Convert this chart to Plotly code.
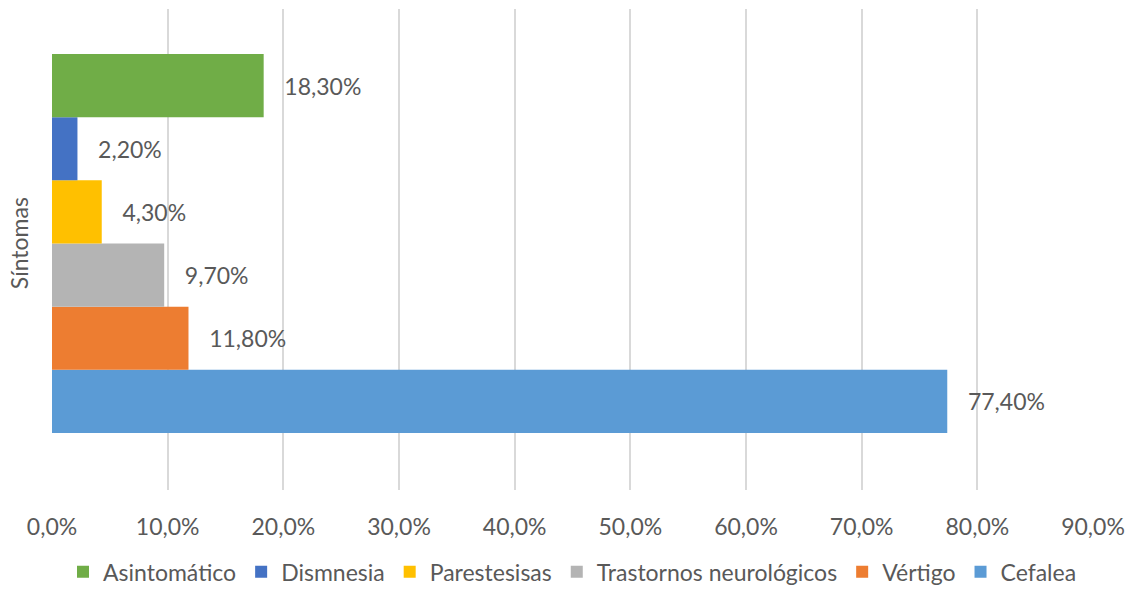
import plotly.graph_objects as go

category = ["Síntomas"]
axis_title = "Síntomas"
series_names = ["Cefalea", "Vértigo", "Trastornos neurológicos", "Parestesisas", "Dismnesia", "Asintomático"]
series_values = [77.4, 11.8, 9.7, 4.3, 2.2, 18.3]
series_colors = ["#5B9BD5", "#ED7D31", "#B4B4B4", "#FFC000", "#4472C4", "#70AD47"]
x_ticks = [0, 10, 20, 30, 40, 50, 60, 70, 80, 90]
x_tick_labels = ["0,0%", "10,0%", "20,0%", "30,0%", "40,0%", "50,0%", "60,0%", "70,0%", "80,0%", "90,0%"]

FONT = "Lato"
TXT = "#595959"
FS = 23

fig = go.Figure()
for name, val, col in zip(series_names, series_values, series_colors):
    fig.add_trace(go.Bar(
        y=category, x=[val], name=name, orientation="h",
        marker=dict(color=col, line=dict(width=0)),
        text=[val], texttemplate="   %{x:.2f}%", textposition="outside",
        textfont=dict(family=FONT, size=FS, color=TXT),
        cliponaxis=False,
    ))

fig.update_layout(
    width=1139, height=598,
    margin=dict(l=52, r=46, t=9, b=108, autoexpand=False),
    paper_bgcolor="white", plot_bgcolor="white",
    barmode="group", bargap=0.212, bargroupgap=0,
    separators=",.",
    font=dict(family=FONT, size=FS, color=TXT),
    showlegend=True,
    legend=dict(orientation="h", traceorder="reversed", x=0.5, xanchor="center",
                y=-0.17, yanchor="middle", font=dict(family=FONT, size=FS, color=TXT),
                itemwidth=30, tracegroupgap=0),
    xaxis=dict(range=[0, 90], tickvals=x_ticks, ticktext=x_tick_labels, automargin=False,
               showgrid=True, gridcolor="#D9D9D9", gridwidth=1.5,
               zeroline=False, showline=False, ticks="outside", ticklen=16,
               tickcolor="rgba(0,0,0,0)", tickfont=dict(family=FONT, size=FS, color=TXT)),
    yaxis=dict(showticklabels=False, showgrid=False, zeroline=False, showline=False,
               range=[-0.5125, 0.4875], type="category", automargin=False),
    annotations=[dict(text=axis_title, textangle=-90, xref="paper", yref="paper",
                      x=-0.031, y=0.5125, xanchor="center", yanchor="middle",
                      showarrow=False, font=dict(family=FONT, size=FS, color=TXT))],
)

fig.write_html("out.html")
